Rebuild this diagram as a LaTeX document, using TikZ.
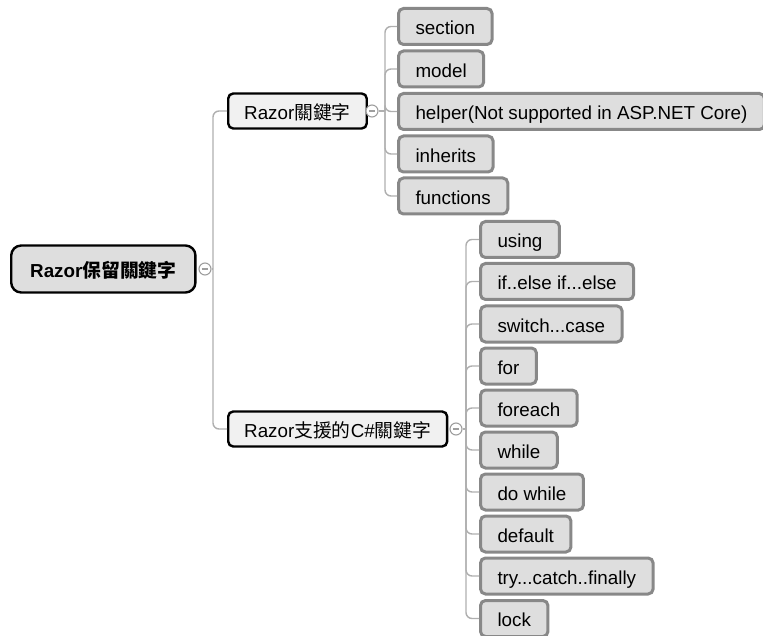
\documentclass[tikz,border=0pt]{standalone}
\usepackage{fontspec}
\setmainfont{Liberation Sans}
\newfontfamily\cjk{Noto Sans CJK TC}
\definecolor{leaffill}{HTML}{DEDEDE}
\definecolor{leafdraw}{HTML}{888888}
\definecolor{midfill}{HTML}{F1F1F1}
\definecolor{conncol}{HTML}{AFAFAF}
\begin{document}
\begin{tikzpicture}[x=1pt,y=-1pt,
  every node/.style={font=\fontsize{18.8}{22}\selectfont, text height=16.5pt, text depth=0pt},
  leaf/.style={draw=leafdraw, line width=3pt, fill=leaffill, rounded corners=5pt, anchor=west, inner xsep=17pt, minimum height=36pt},
  mid/.style={draw=black, line width=2.4pt, fill=midfill, rounded corners=5pt, anchor=west, inner xsep=16pt, minimum height=35pt},
  rootbox/.style={draw=black, line width=2.4pt, fill=leaffill, rounded corners=10pt, anchor=west, inner xsep=19pt, minimum height=47pt, font=\fontsize{18.8}{22}\selectfont\bfseries},
  conn/.style={draw=conncol, line width=1.4pt, rounded corners=6pt},
  toggle/.style={circle, minimum size=13pt, inner sep=0pt, text height=, text depth=}
]
\useasboundingbox (0,0) rectangle (763,636);

% root
\node[rootbox] (root) at (10,269) {Razor{\cjk 保留關鍵字}};
\node[toggle] (t0) at (205,269) {};
\coordinate (j0) at (213,269);

% level 1
\node[mid] (k1) at (227,111) {Razor{\cjk 關鍵字}};
\node[mid] (k2) at (227,429) {Razor{\cjk 支援的}C\#{\cjk 關鍵字}};
\node[toggle] (t1) at (372,111) {};
\node[toggle] (t2) at (456,429) {};
\coordinate (j1) at (385,111);
\coordinate (j2) at (466,429);

% leaves of k1
\node[leaf] (a1) at (397,26.5) {section};
\node[leaf] (a2) at (397,69) {model};
\node[leaf] (a3) at (397,111.5) {helper(Not supported in ASP.NET Core)};
\node[leaf] (a4) at (397,154) {inherits};
\node[leaf] (a5) at (397,196) {functions};

% leaves of k2
\node[leaf] (b1) at (479,239.5) {using};
\node[leaf] (b2) at (479,281.5) {if..else if...else};
\node[leaf] (b3) at (479,324) {switch...case};
\node[leaf] (b4) at (479,366) {for};
\node[leaf] (b5) at (479,408) {foreach};
\node[leaf] (b6) at (479,450) {while};
\node[leaf] (b7) at (479,492) {do while};
\node[leaf] (b8) at (479,534) {default};
\node[leaf] (b9) at (479,576) {try...catch..finally};
\node[leaf] (b10) at (479,618.5) {lock};

% connectors
\draw[conn] (t0.east) -- (j0);
\draw[conn] (j0) |- (k1.west);
\draw[conn] (j0) |- (k2.west);
\draw[conn] (t1.east) -- (j1);
\foreach \n in {a1,a2,a3,a4,a5} { \draw[conn] (j1) |- (\n.west); }
\draw[conn] (t2.east) -- (j2);
\foreach \n in {b1,b2,b3,b4,b5,b6,b7,b8,b9,b10} { \draw[conn] (j2) |- (\n.west); }

% toggles with minus signs
\foreach \t in {t0,t1,t2} {
  \draw[conncol!90!black, line width=1.1pt, fill=white] (\t) circle (6pt);
  \draw[conncol!90!black, line width=1.1pt] ([xshift=-3.2pt]\t.center) -- ([xshift=3.2pt]\t.center);
}
\end{tikzpicture}
\end{document}
